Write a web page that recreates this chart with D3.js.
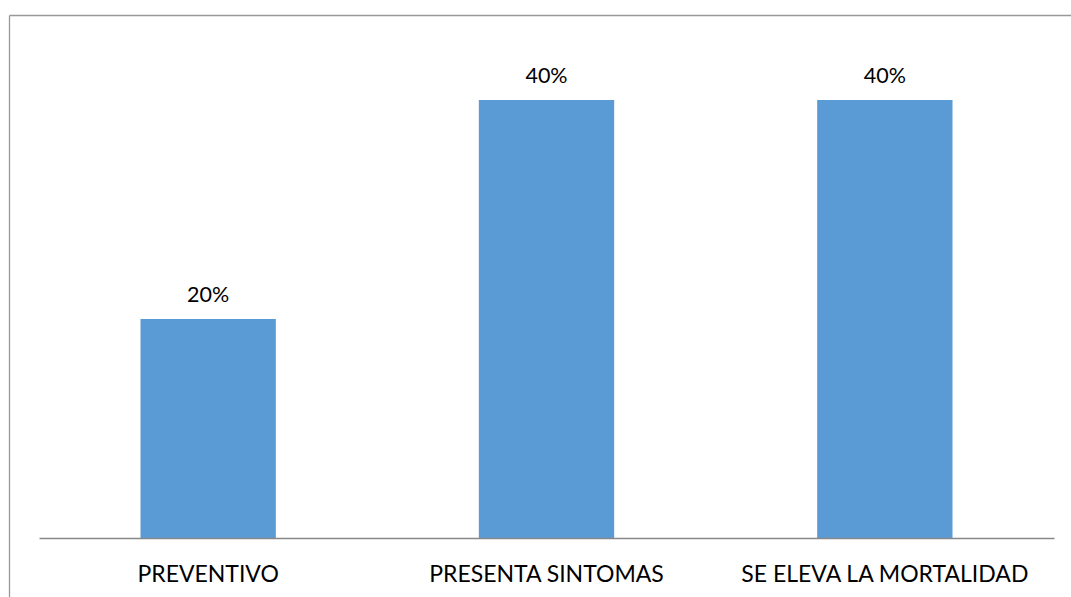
<!DOCTYPE html>
<html>
<head>
<meta charset="utf-8">
<script src="https://cdn.jsdelivr.net/npm/d3@7"></script>
<style>
  html, body { margin: 0; padding: 0; background: #fff; }
  svg { display: block; }
  text { font-family: Lato, "Open Sans", sans-serif; fill: #000; }
</style>
</head>
<body>
<script>
// Data
const categories = ["PREVENTIVO", "PRESENTA SINTOMAS", "SE ELEVA LA MORTALIDAD"];
const values = [0.20, 0.40, 0.40];
const valueLabels = ["20%", "40%", "40%"];

const W = 1071, H = 597;
const svg = d3.select("body").append("svg").attr("width", W).attr("height", H);

// Chart frame (top and left edges visible)
svg.append("line").attr("x1", 9.5).attr("x2", W).attr("y1", 15.5).attr("y2", 15.5)
  .attr("stroke", "#999").attr("stroke-width", 1.3);
svg.append("line").attr("x1", 9.5).attr("x2", 9.5).attr("y1", 15.5).attr("y2", H)
  .attr("stroke", "#999").attr("stroke-width", 1.3);

const x = d3.scaleBand().domain(categories).range([39, 1054])
  .paddingInner(0.6).paddingOuter(0.3);
const y = d3.scaleLinear().domain([0, 0.4]).range([538, 100]);

const data = categories.map((c, i) => ({ c, v: values[i], label: valueLabels[i] }));

svg.selectAll("rect.bar").data(data).join("rect")
  .attr("class", "bar")
  .attr("x", d => x(d.c))
  .attr("y", d => y(d.v))
  .attr("width", x.bandwidth())
  .attr("height", d => y(0) - y(d.v))
  .attr("fill", "#5B9BD5");

// Category axis
const axis = svg.append("g").attr("transform", `translate(0,${y(0)})`)
  .call(d3.axisBottom(x).tickSize(0).tickPadding(28));
axis.select(".domain").attr("stroke", "#888").attr("stroke-width", 1.3);
axis.selectAll("text").style("font-size", "23px").style("font-family", "Lato, 'Open Sans', sans-serif").attr("fill", "#000");

// Value labels
svg.selectAll("text.val").data(data).join("text")
  .attr("class", "val")
  .attr("x", d => x(d.c) + x.bandwidth() / 2)
  .attr("y", d => y(d.v) - 17)
  .attr("text-anchor", "middle")
  .style("font-size", "21.5px")
  .text(d => d.label);
</script>
</body>
</html>
